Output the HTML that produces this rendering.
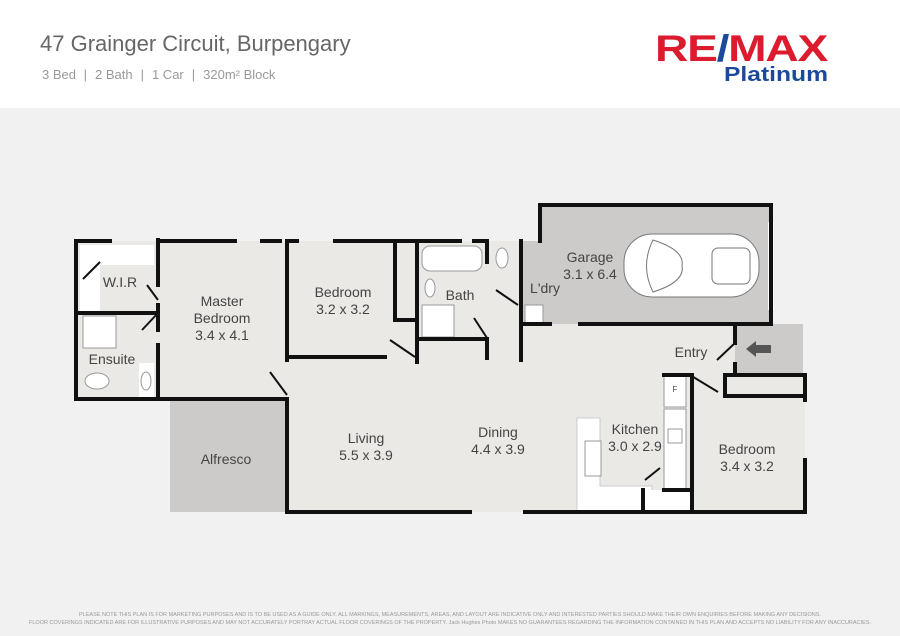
<!DOCTYPE html>
<html><head><style>
html,body{margin:0;padding:0;width:900px;height:636px;overflow:hidden;background:#fff;font-family:"Liberation Sans",sans-serif}
</style></head><body>
<svg width="900" height="636" viewBox="0 0 900 636" xmlns="http://www.w3.org/2000/svg" font-family="Liberation Sans, sans-serif">
<rect x="0" y="0" width="900" height="108" fill="#fff"/>
<rect x="0" y="108" width="900" height="528" fill="#f1f1f1"/>
<text x="40" y="51" font-size="22" fill="#666">47 Grainger Circuit, Burpengary</text>
<text x="42" y="79" font-size="13" fill="#999">3 Bed  <tspan dx="4">|</tspan><tspan dx="8">2 Bath</tspan><tspan dx="8">|</tspan><tspan dx="8">1 Car</tspan><tspan dx="8">|</tspan><tspan dx="8">320m² Block</tspan></text>
<text x="655" y="61" font-size="37" font-weight="bold" fill="#dc1c2e" letter-spacing="-1" textLength="172" lengthAdjust="spacingAndGlyphs">RE<tspan fill="#1b4a9c">/</tspan>MAX</text>
<text x="724" y="81" font-size="20" font-weight="bold" fill="#1b4a9c" textLength="104" lengthAdjust="spacingAndGlyphs">Platinum</text>

<rect x="170" y="400" width="117" height="112" fill="#cdcbca"/>
<polygon points="540,205 771,205 771,324 521,324 521,241 540,241" fill="#cdcbca"/>
<rect x="735" y="324" width="68" height="49" fill="#cdcbca"/>
<g fill="#ebe9e6">
<rect x="76" y="241" width="211" height="158"/>
<rect x="287" y="241" width="130" height="116"/>
<rect x="417" y="241" width="104" height="121"/>
<polygon points="287,357 521,357 521,324 735,324 735,375 805,375 805,512 287,512"/>
</g>
<rect x="80" y="245" width="74" height="66" fill="#fff"/>
<rect x="100" y="265" width="54" height="46" fill="#ebe9e6"/>
<polygon points="577,418 600,418 600,486 652,486 652,512 577,512" fill="#fff" stroke="#ccc" stroke-width="1"/>
<rect x="585" y="441" width="16" height="35" fill="#fff" stroke="#999"/>
<rect x="664" y="375" width="22" height="32" fill="#fff" stroke="#999"/>
<text x="675" y="392" font-size="8" fill="#444" text-anchor="middle">F</text>
<rect x="664" y="409" width="22" height="81" fill="#fff" stroke="#999"/>
<rect x="668" y="429" width="14" height="14" fill="none" stroke="#999"/>
<rect x="643" y="490" width="49" height="22" fill="#fff"/>
<rect x="422" y="246" width="60" height="25" rx="8" fill="#fff" stroke="#999"/>
<rect x="422" y="305" width="32" height="32" fill="#fff" stroke="#999"/>
<ellipse cx="430" cy="288" rx="5" ry="9" fill="#fff" stroke="#999"/>
<ellipse cx="502" cy="258" rx="6" ry="10" fill="#fff" stroke="#999"/>
<rect x="83" y="316" width="33" height="32" fill="#fff" stroke="#999"/>
<ellipse cx="97" cy="381" rx="12" ry="8" fill="#fff" stroke="#999"/>
<rect x="139" y="363" width="15" height="35" fill="#fff"/>
<ellipse cx="146" cy="381" rx="5" ry="9" fill="#fff" stroke="#999"/>
<rect x="525" y="305" width="18" height="18" fill="#fff" stroke="#999"/>
<rect x="624" y="234" width="135" height="63" rx="28" fill="#fff" stroke="#777"/>
<rect x="712" y="248" width="38" height="36" rx="6" fill="#fff" stroke="#777"/>
<path d="M653,240 Q685,250 682,266 Q685,282 653,292 Q640,266 653,240Z" fill="none" stroke="#777"/>
<rect x="768" y="222" width="6" height="88" fill="#fff"/>
<polygon points="746,349 756,341 756,345 771,345 771,353 756,353 756,357" fill="#555"/>
<g stroke="#111" stroke-width="4" fill="none" stroke-linecap="square">
<polyline points="76,241 110,241"/><polyline points="76,241 76,399 170,399"/>
<polyline points="158,241 235,241"/><line x1="262" y1="241" x2="280" y2="241"/>
<line x1="287" y1="241" x2="297" y2="241"/><line x1="335" y1="241" x2="417" y2="241"/>
<line x1="417" y1="241" x2="460" y2="241"/><line x1="474" y1="241" x2="487" y2="241"/>
<polyline points="540,241 540,205 771,205 771,324 580,324"/><line x1="521" y1="324" x2="550" y2="324"/>
<line x1="735" y1="324" x2="735" y2="343"/><line x1="735" y1="364" x2="735" y2="375"/>
<polyline points="726,375 805,375 805,400"/><line x1="805" y1="460" x2="805" y2="512"/>
<line x1="287" y1="512" x2="470" y2="512"/><line x1="525" y1="512" x2="805" y2="512"/>
<line x1="287" y1="400" x2="287" y2="512"/><line x1="287" y1="241" x2="287" y2="360"/>
<line x1="170" y1="399" x2="287" y2="399"/>
<line x1="287" y1="357" x2="385" y2="357"/>
<line x1="158" y1="240" x2="158" y2="285"/>
<line x1="158" y1="305" x2="158" y2="330"/><line x1="158" y1="345" x2="158" y2="399"/>
<line x1="76" y1="313" x2="158" y2="313"/>
<line x1="395" y1="241" x2="395" y2="320"/><polyline points="395,320 417,320"/>
<line x1="417" y1="241" x2="417" y2="362"/><line x1="487" y1="241" x2="487" y2="262"/>
<polyline points="417,339 487,339 487,358"/>
<line x1="521" y1="241" x2="521" y2="360"/>
<line x1="692" y1="375" x2="692" y2="512"/><line x1="664" y1="375" x2="690" y2="375"/>
<line x1="643" y1="490" x2="643" y2="512"/><line x1="664" y1="490" x2="692" y2="490"/>
<line x1="725" y1="375" x2="725" y2="396"/><line x1="725" y1="396" x2="805" y2="396"/>
</g>
<g stroke="#111" stroke-width="2" fill="none">
<line x1="270" y1="372" x2="287" y2="395"/><line x1="390" y1="340" x2="415" y2="357"/>
<line x1="83" y1="279" x2="100" y2="262"/><line x1="142" y1="330" x2="158" y2="313"/>
<line x1="147" y1="285" x2="158" y2="300"/><line x1="496" y1="290" x2="518" y2="305"/>
<line x1="474" y1="318" x2="487" y2="338"/><line x1="717" y1="360" x2="735" y2="343"/>
<line x1="690" y1="375" x2="718" y2="392"/><line x1="645" y1="480" x2="660" y2="468"/>
</g>
<g fill="#444" font-size="14" text-anchor="middle">
<text x="120" y="287">W.I.R</text>
<text x="222" y="306">Master</text><text x="222" y="323">Bedroom</text><text x="222" y="340">3.4 x 4.1</text>
<text x="112" y="364">Ensuite</text>
<text x="343" y="297">Bedroom</text><text x="343" y="314">3.2 x 3.2</text>
<text x="460" y="300">Bath</text>
<text x="590" y="262">Garage</text><text x="590" y="279">3.1 x 6.4</text>
<text x="545" y="293">L'dry</text>
<text x="691" y="357">Entry</text>
<text x="226" y="464">Alfresco</text>
<text x="366" y="443">Living</text><text x="366" y="460">5.5 x 3.9</text>
<text x="498" y="437">Dining</text><text x="498" y="454">4.4 x 3.9</text>
<text x="635" y="434">Kitchen</text><text x="635" y="451">3.0 x 2.9</text>
<text x="747" y="454">Bedroom</text><text x="747" y="471">3.4 x 3.2</text>
</g>
<g fill="#999" font-size="5.5" text-anchor="middle">
<text x="450" y="616" textLength="742" lengthAdjust="spacingAndGlyphs">PLEASE NOTE THIS PLAN IS FOR MARKETING PURPOSES AND IS TO BE USED AS A GUIDE ONLY.  ALL MARKINGS, MEASUREMENTS, AREAS, AND LAYOUT ARE INDICATIVE ONLY AND INTERESTED PARTIES SHOULD MAKE THEIR OWN ENQUIRIES BEFORE MAKING ANY DECISIONS.</text>
<text x="450" y="624" textLength="842" lengthAdjust="spacingAndGlyphs">FLOOR COVERINGS INDICATED ARE FOR ILLUSTRATIVE PURPOSES AND MAY NOT ACCURATELY PORTRAY ACTUAL FLOOR COVERINGS OF THE PROPERTY.  Jack Hughes Photo MAKES NO GUARANTEES REGARDING THE INFORMATION CONTAINED IN THIS PLAN AND ACCEPTS NO LIABILITY FOR  ANY INACCURACIES.</text>
</g>
</svg>
</body></html>
